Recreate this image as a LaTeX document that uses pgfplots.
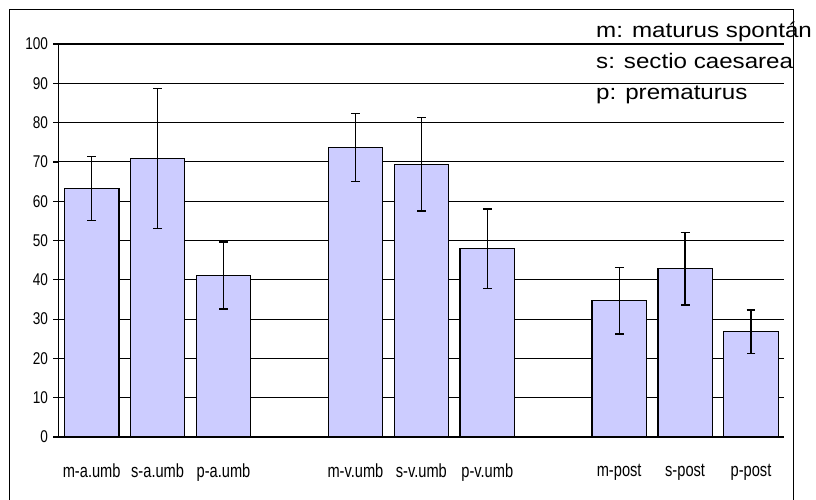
\documentclass[border=0pt]{standalone}
\usepackage{pgfplots}
\pgfplotsset{compat=1.18}
\usepackage{pgfplotstable}
\usepackage{fontspec}
\setmainfont{Liberation Sans}
\definecolor{barfill}{HTML}{CCCCFF}

% position, mean, half-width of the error bar
\pgfplotstableread{
x    y     e
0    63.2  8.1
1    70.8  17.8
2    41.1  8.5
4    73.7  8.7
5    69.4  11.9
6    47.9  10.15
8    34.7  8.5
9    42.8  9.2
10   26.8  5.5
}\flowdata

\begin{document}
\begin{tikzpicture}[x=1pt,y=1pt]
\useasboundingbox (0,0) rectangle (816,499);
% chart frame
\draw[line width=1.2pt] (9.3,-2) -- (9.3,489.8) -- (793.8,489.8) -- (793.8,-2);
\begin{axis}[
  at={(58.7pt,62pt)}, anchor=south west,
  scale only axis, width=725.3pt, height=393pt,
  xmin=-0.5, xmax=10.5, ymin=0, ymax=100,
  axis x line*=bottom, axis y line*=left,
  axis line style={line width=1.2pt,-},
  ytick={0,10,...,100},
  ymajorgrids, grid style={black, line width=1.1pt},
  xtick={0,1,2,4,5,6,8,9,10},
  xticklabels={m-a.umb,s-a.umb,p-a.umb,m-v.umb,s-v.umb,p-v.umb,m-post,s-post,p-post},
  minor xtick={-0.5,0.5,...,10.5},
  tick align=outside,
  major tick length=5.5pt, minor tick length=6.5pt,
  ytick style={black, line width=1.2pt},
  xtick style={draw=none},
  minor tick style={draw=black, line width=1.2pt},
  yticklabel style={font=\fontsize{17}{18}\selectfont, xscale=0.8, xshift=-3pt},
  xticklabel style={font=\fontsize{19}{20}\selectfont, xscale=0.77, yshift=-18pt},
  /pgf/number format/assume math mode=true,
  ybar, bar width=54.4pt,
  clip=false,
]
\addplot[fill=barfill, draw=black, line width=1.3pt,
  error bars/.cd, y dir=both, y explicit,
  error mark=-,
  error bar style={black, line width=1.3pt},
  error mark options={rotate=90, black, line width=1.3pt, mark size=4.4pt}]
  table[x=x, y=y, y error=e] {\flowdata};
\end{axis}
% key to the abbreviations
\begin{scope}[every node/.style={anchor=base west, inner sep=0pt, font=\fontsize{21}{24}\selectfont, xscale=1.15}]
\node at (596,461.7) {m: maturus spontán};
\node at (596,430.7) {s: sectio caesarea};
\node at (596,399.7) {p: prematurus};
\end{scope}
\end{tikzpicture}
\end{document}
